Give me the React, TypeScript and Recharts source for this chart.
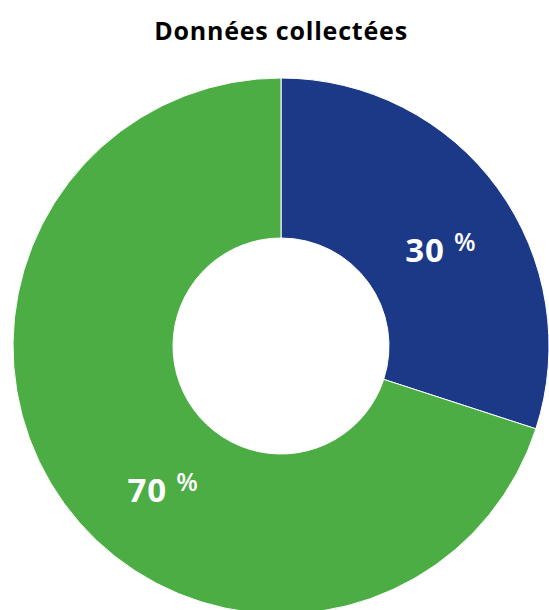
import { PieChart, Pie, Cell } from "recharts";

const categories = ["Blue", "Green"];
const values = [30, 70];
const colors = ["#1c3987", "#4bad43"];
const title = "Données collectées";

const data = categories.map((name, i) => ({ name, value: values[i] }));

const RADIAN = Math.PI / 180;
// Excel-like label placement: small angular nudges from the slice middle
const labelShift = [-5, 14.5];

function renderLabel(props: any) {
  const { cx, cy, midAngle, index, value } = props;
  const r = 186;
  const a = (midAngle + labelShift[index]) * RADIAN;
  const x = cx + r * Math.cos(a);
  const y = cy - r * Math.sin(a);
  return (
    <text x={x} y={y + 12} textAnchor="middle" fill="#ffffff" fontFamily="'Open Sans', sans-serif">
      <tspan fontSize={33} fontWeight={700} letterSpacing={1}>{value}</tspan>
      <tspan fontSize={25} fontWeight={600} dx={9} dy={-11}>%</tspan>
    </text>
  );
}

export default function App() {
  return (
    <div style={{ position: "absolute", left: 0, top: 0, width: 549, height: 610, background: "#fff", overflow: "hidden" }}>
      <div
        style={{
          position: "absolute",
          left: 0,
          top: 13,
          width: 562,
          textAlign: "center",
          fontFamily: "'Open Sans', sans-serif",
          fontWeight: 700,
          fontSize: 25,
          letterSpacing: 0.8,
          color: "#000",
          lineHeight: "34px",
        }}
      >
        {title}
      </div>
      <PieChart width={549} height={610} margin={{ top: 0, right: 0, bottom: 0, left: 0 }}>
        <Pie
          data={data}
          dataKey="value"
          nameKey="name"
          cx={281}
          cy={346}
          innerRadius={108}
          outerRadius={268}
          startAngle={90}
          endAngle={-270}
          stroke="#ffffff"
          strokeWidth={1}
          label={renderLabel}
          labelLine={false}
          isAnimationActive={false}
        >
          {data.map((_, i) => (
            <Cell key={i} fill={colors[i % colors.length]} />
          ))}
        </Pie>
      </PieChart>
    </div>
  );
}
